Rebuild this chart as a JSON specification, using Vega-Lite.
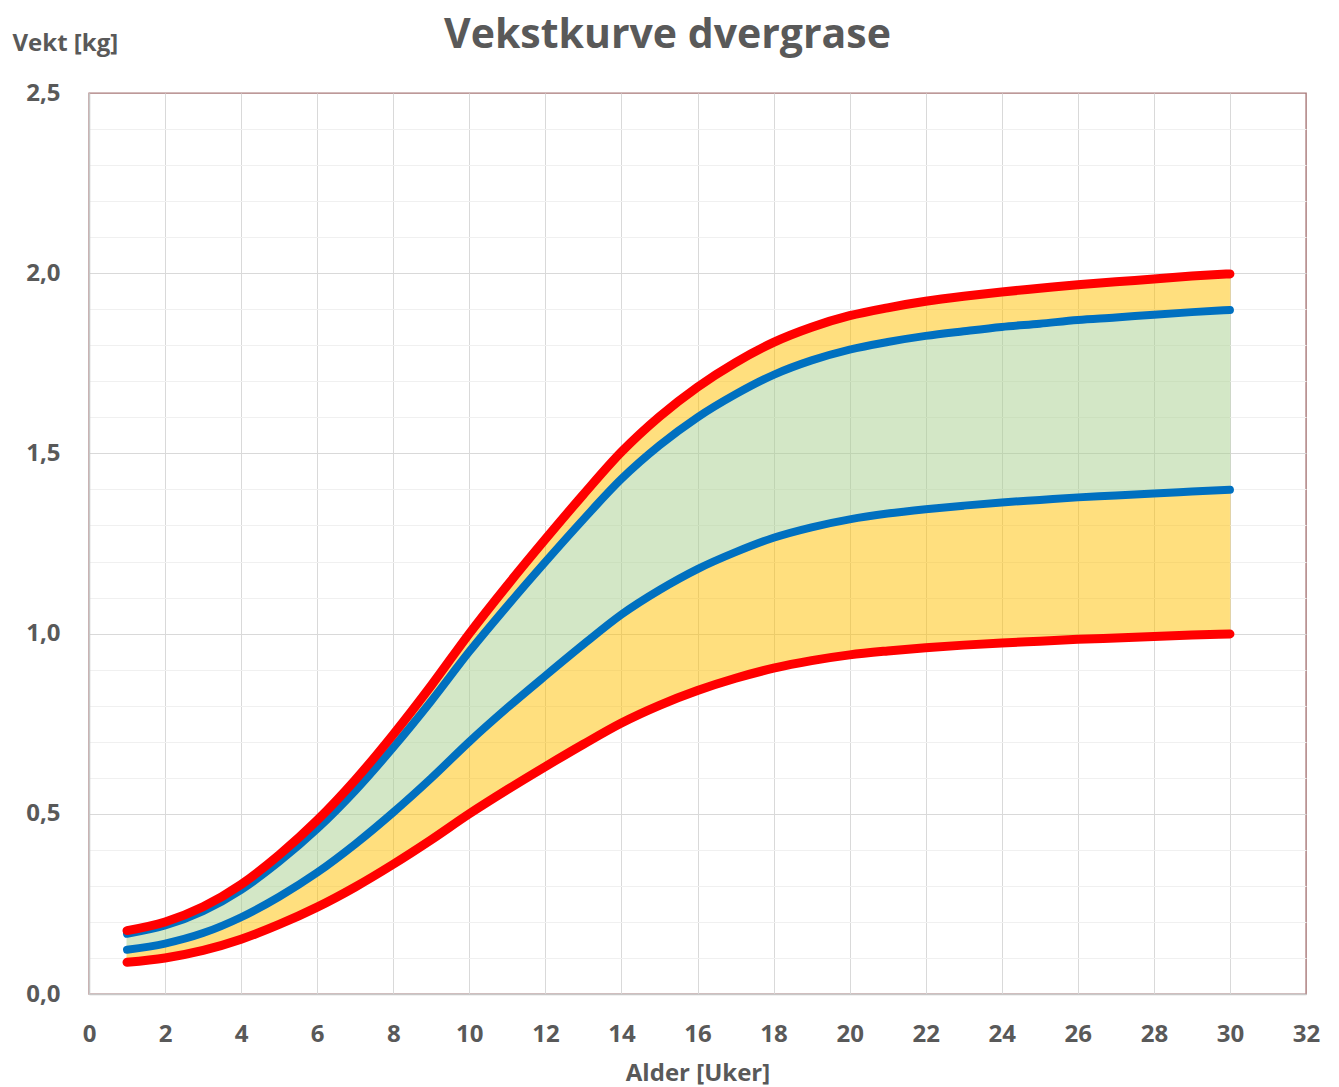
{
  "$schema": "https://vega.github.io/schema/vega-lite/v6.json",
  "autosize": "none",
  "width": 1217,
  "height": 901,
  "padding": {"left": 89, "top": 93, "right": 33, "bottom": 93},
  "background": "white",
  "title": {
    "text": "Vekstkurve dvergrase",
    "font": "Open Sans",
    "fontSize": 41,
    "fontWeight": "bold",
    "color": "#595959",
    "anchor": "middle",
    "frame": "group",
    "dx": -30,
    "dy": 48,
    "baseline": "alphabetic",
    "offset": -10
  },
  "config": {
    "view": {"stroke": "#A87878", "strokeWidth": 1.4},
    "axis": {
      "labelFont": "Open Sans",
      "labelFontSize": 24,
      "labelFontWeight": "bold",
      "labelColor": "#595959",
      "labelFlush": false,
      "titleFont": "Open Sans",
      "titleFontSize": 24,
      "titleFontWeight": "bold",
      "titleColor": "#595959",
      "ticks": false
    }
  },
  "data": {
    "values": [
      {"w": 1, "rl": 0.088, "bl": 0.123, "bu": 0.167, "ru": 0.176},
      {"w": 2, "rl": 0.100, "bl": 0.140, "bu": 0.190, "ru": 0.200},
      {"w": 3, "rl": 0.121, "bl": 0.169, "bu": 0.230, "ru": 0.242},
      {"w": 4, "rl": 0.152, "bl": 0.213, "bu": 0.289, "ru": 0.304},
      {"w": 5, "rl": 0.193, "bl": 0.270, "bu": 0.367, "ru": 0.386},
      {"w": 6, "rl": 0.241, "bl": 0.337, "bu": 0.458, "ru": 0.482},
      {"w": 7, "rl": 0.297, "bl": 0.416, "bu": 0.564, "ru": 0.594},
      {"w": 8, "rl": 0.360, "bl": 0.504, "bu": 0.684, "ru": 0.720},
      {"w": 9, "rl": 0.428, "bl": 0.599, "bu": 0.813, "ru": 0.856},
      {"w": 10, "rl": 0.500, "bl": 0.700, "bu": 0.950, "ru": 1.000},
      {"w": 11, "rl": 0.567, "bl": 0.794, "bu": 1.077, "ru": 1.134},
      {"w": 12, "rl": 0.631, "bl": 0.883, "bu": 1.199, "ru": 1.262},
      {"w": 13, "rl": 0.693, "bl": 0.970, "bu": 1.317, "ru": 1.386},
      {"w": 14, "rl": 0.752, "bl": 1.053, "bu": 1.429, "ru": 1.504},
      {"w": 15, "rl": 0.801, "bl": 1.121, "bu": 1.522, "ru": 1.602},
      {"w": 16, "rl": 0.842, "bl": 1.179, "bu": 1.600, "ru": 1.684},
      {"w": 17, "rl": 0.876, "bl": 1.226, "bu": 1.664, "ru": 1.752},
      {"w": 18, "rl": 0.904, "bl": 1.266, "bu": 1.718, "ru": 1.808},
      {"w": 19, "rl": 0.925, "bl": 1.295, "bu": 1.758, "ru": 1.850},
      {"w": 20, "rl": 0.941, "bl": 1.317, "bu": 1.788, "ru": 1.882},
      {"w": 21, "rl": 0.952, "bl": 1.333, "bu": 1.809, "ru": 1.904},
      {"w": 22, "rl": 0.961, "bl": 1.345, "bu": 1.826, "ru": 1.922},
      {"w": 23, "rl": 0.968, "bl": 1.355, "bu": 1.839, "ru": 1.936},
      {"w": 24, "rl": 0.974, "bl": 1.364, "bu": 1.851, "ru": 1.948},
      {"w": 25, "rl": 0.979, "bl": 1.371, "bu": 1.860, "ru": 1.958},
      {"w": 26, "rl": 0.984, "bl": 1.378, "bu": 1.870, "ru": 1.968},
      {"w": 27, "rl": 0.988, "bl": 1.383, "bu": 1.877, "ru": 1.976},
      {"w": 28, "rl": 0.992, "bl": 1.389, "bu": 1.885, "ru": 1.984},
      {"w": 29, "rl": 0.996, "bl": 1.394, "bu": 1.892, "ru": 1.992},
      {"w": 30, "rl": 0.999, "bl": 1.399, "bu": 1.898, "ru": 1.998}
    ]
  },
  "resolve": {"axis": {"x": "independent", "y": "independent"}},
  "layer": [
    {
      "mark": {"type": "area", "interpolate": "monotone", "color": "#FFC000", "opacity": 0.5, "stroke": "#FFC000", "strokeWidth": 1},
      "encoding": {
        "x": {"field": "w", "type": "quantitative", "scale": {"domain": [0, 32], "nice": false},
          "axis": {"orient": "bottom", "values": [0,2,4,6,8,10,12,14,16,18,20,22,24,26,28,30,32],
            "grid": true, "gridColor": {"condition": {"test": "datum.value >= 32", "value": "transparent"}, "value": "#D9D9D9"},
            "domainColor": "#C8C8C8", "domainWidth": 1.5, "labelPadding": 28,
            "title": "Alder [Uker]", "titleBaseline": "alphabetic", "titleY": 86}},
        "y": {"field": "ru", "type": "quantitative", "scale": {"domain": [0, 2.5], "nice": false},
          "axis": {"orient": "left", "values": [0, 0.5, 1, 1.5, 2, 2.5],
            "labelExpr": "replace(format(datum.value, '.1f'), '.', ',')",
            "grid": true, "gridColor": {"condition": {"test": "datum.value >= 2.5", "value": "transparent"}, "value": "#D9D9D9"},
            "domainColor": "#C8C8C8", "domainWidth": 1.5, "labelPadding": 29,
            "title": "Vekt [kg]", "titleAngle": 0, "titleAlign": "left", "titleBaseline": "alphabetic",
            "titleX": -77, "titleY": -43}},
        "y2": {"field": "bu"}
      }
    },
    {
      "mark": {"type": "area", "interpolate": "monotone", "color": "#A9D18E", "opacity": 0.5, "stroke": "#A9D18E", "strokeWidth": 1},
      "encoding": {
        "x": {"field": "w", "type": "quantitative", "axis": null},
        "y": {"field": "bu", "type": "quantitative", "axis": {"orient": "right", "values": [0.1,0.2,0.3,0.4,0.6,0.7,0.8,0.9,1.1,1.2,1.3,1.4,1.6,1.7,1.8,1.9,2.1,2.2,2.3,2.4],
          "grid": true, "gridColor": "#F0F0F0", "gridWidth": 1, "domain": false, "labels": false, "title": null}},
        "y2": {"field": "bl"}
      }
    },
    {
      "mark": {"type": "area", "interpolate": "monotone", "color": "#FFC000", "opacity": 0.5, "stroke": "#FFC000", "strokeWidth": 1},
      "encoding": {
        "x": {"field": "w", "type": "quantitative", "axis": null},
        "y": {"field": "bl", "type": "quantitative", "axis": null},
        "y2": {"field": "rl"}
      }
    },
    {
      "mark": {"type": "line", "interpolate": "monotone", "color": "#0070C0", "strokeWidth": 8, "strokeCap": "round"},
      "encoding": {
        "x": {"field": "w", "type": "quantitative", "axis": null},
        "y": {"field": "bu", "type": "quantitative", "axis": null}
      }
    },
    {
      "mark": {"type": "line", "interpolate": "monotone", "color": "#0070C0", "strokeWidth": 8, "strokeCap": "round"},
      "encoding": {
        "x": {"field": "w", "type": "quantitative", "axis": null},
        "y": {"field": "bl", "type": "quantitative", "axis": null}
      }
    },
    {
      "mark": {"type": "line", "interpolate": "monotone", "color": "#FF0000", "strokeWidth": 9, "strokeCap": "round"},
      "encoding": {
        "x": {"field": "w", "type": "quantitative", "axis": null},
        "y": {"field": "ru", "type": "quantitative", "axis": null}
      }
    },
    {
      "mark": {"type": "line", "interpolate": "monotone", "color": "#FF0000", "strokeWidth": 9, "strokeCap": "round"},
      "encoding": {
        "x": {"field": "w", "type": "quantitative", "axis": null},
        "y": {"field": "rl", "type": "quantitative", "axis": null}
      }
    }
  ]
}
